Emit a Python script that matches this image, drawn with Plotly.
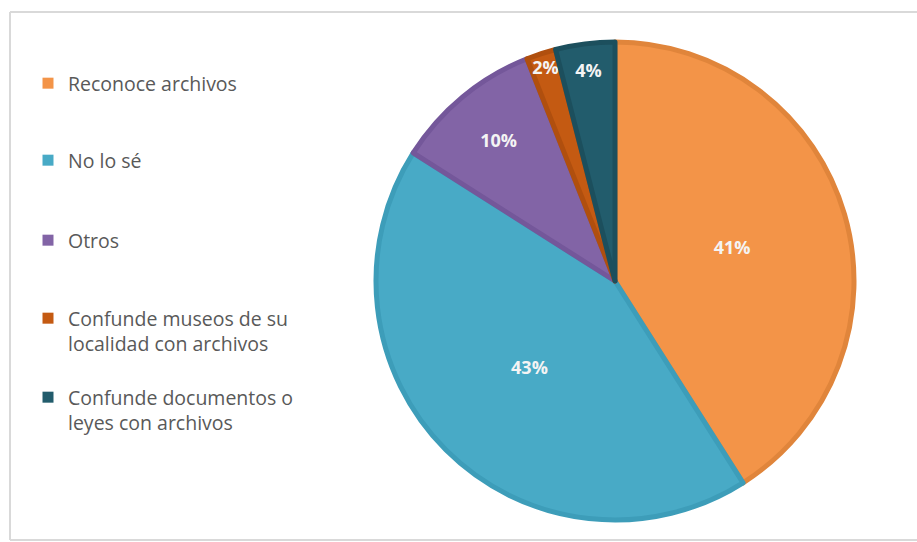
import plotly.graph_objects as go

labels = ["Reconoce archivos", "No lo sé", "Otros",
          "Confunde museos de su<br>localidad con archivos",
          "Confunde documentos o<br>leyes con archivos"]
values = [41, 43, 10, 2, 4]
colors = ["#F39448", "#48AAC6", "#8264A6", "#C45A12", "#225C6C"]
edge_colors = ["#E0853B", "#3D9DB9", "#74579A", "#B04F0E", "#1C4F5D"]

W, H = 917, 542
cx, cy, R = 615, 281, 239

fig = go.Figure()
fig.add_trace(go.Pie(
    labels=labels, values=values, sort=False, direction="clockwise", rotation=0,
    marker=dict(colors=colors, line=dict(color=edge_colors, width=5)),
    textinfo="percent", texttemplate="%{percent:.0%}",
    textposition="inside", insidetextorientation="horizontal",
    textfont=dict(family="Open Sans", size=18, color="#F4F4F4", weight="bold"),
    showlegend=False, hoverinfo="label+percent",
    domain=dict(x=[(cx - R) / W, (cx + R) / W], y=[(H - cy - R) / H, (H - cy + R) / H]),
))

legend_tops = [64, 141, 221, 299, 378]
layout_legends = {}
for i, (lab, col) in enumerate(zip(labels, colors)):
    key = "legend" if i == 0 else f"legend{i + 1}"
    fig.add_trace(go.Scatter(
        x=[None], y=[None], mode="markers", name=lab,
        marker=dict(symbol="square", size=11, color=col),
        legend=key, showlegend=True, hoverinfo="skip",
    ))
    layout_legends[key] = dict(
        x=28 / W, xanchor="left", y=1 - legend_tops[i] / H, yanchor="top",
        bgcolor="rgba(0,0,0,0)", borderwidth=0, valign="top",
        font=dict(family="Open Sans", size=19.5, color="#595959"),
        itemclick=False, itemdoubleclick=False,
    )

frame = dict(color="#D9D9D9", width=2)
fy0, fy1, fx0 = 1 - 540 / H, 1 - 12 / H, 10 / W
fig.update_layout(
    width=W, height=H, margin=dict(l=0, r=0, t=0, b=0),
    paper_bgcolor="white", plot_bgcolor="white",
    uniformtext=dict(minsize=18, mode="show"),
    xaxis=dict(visible=False, showline=False, zeroline=False, showgrid=False),
    yaxis=dict(visible=False, showline=False, zeroline=False, showgrid=False),
    shapes=[
        dict(type="line", xref="paper", yref="paper", x0=fx0, x1=fx0, y0=fy0, y1=fy1, line=frame, layer="below"),
        dict(type="line", xref="paper", yref="paper", x0=fx0, x1=1.2, y0=fy1, y1=fy1, line=frame, layer="below"),
        dict(type="line", xref="paper", yref="paper", x0=fx0, x1=1.2, y0=fy0, y1=fy0, line=frame, layer="below"),
    ],
    **layout_legends,
)

fig.write_html("out.html", config={"displayModeBar": False},
               post_script="document.body.style.margin='0px';document.body.style.overflow='hidden';")
